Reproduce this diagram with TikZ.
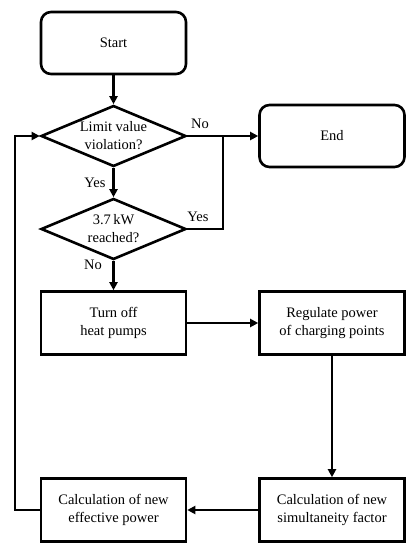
\documentclass[tikz,border=0pt]{standalone}
\usepackage{fontspec}
\setmainfont{Liberation Serif}
\usepackage{tikz}
\usetikzlibrary{shapes.geometric}
\usetikzlibrary{arrows.meta}

\begin{document}
\begin{tikzpicture}[
    x=1pt, y=-1pt,
    every node/.style={font=\fontsize{14.5}{18}\selectfont, align=center},
    termbox/.style={rectangle, draw, rounded corners=10pt, line width=2.6pt,
                    minimum width=145pt, minimum height=62pt},
    procbox/.style={rectangle, draw, line width=2.6pt,
                    minimum width=145pt, minimum height=63pt},
    decision/.style={diamond, draw, aspect=2.4, inner sep=0pt, line width=2.6pt,
                     minimum width=145pt, minimum height=61pt},
    lbl/.style={inner sep=0pt},
    every path/.style={line width=2.6pt},
  ]
\tikzset{>={Triangle[length=8pt, width=8pt]}}
  \useasboundingbox (0,0) rectangle (419,550);
  \node[termbox]  (start)  at (113.5, 43)  {Start};
  \node[decision] (limit)  at (113.5, 136) {Limit value\\violation?};
  \node[termbox]  (end)    at (332, 136)   {End};
  \node[decision] (kw)     at (113.5, 229) {3.7\,kW\\reached?};
  \node[procbox]  (hp)     at (113.5, 323) {Turn off\\heat pumps};
  \node[procbox]  (cp)     at (332, 323)   {Regulate power\\of charging points};
  \node[procbox]  (sim)    at (332, 510)   {Calculation of new\\simultaneity factor};
  \node[procbox]  (eff)    at (113.5, 510) {Calculation of new\\effective power};
  \coordinate (join) at (223, 136);
  \coordinate (back) at (15, 510);

  \node[lbl] at (200, 124) {No};
  \node[lbl] at (95, 183)  {Yes};
  \node[lbl] at (198, 217) {Yes};
  \node[lbl] at (93, 265)  {No};

  \draw[->] (start) -- (limit);
  \draw[->] (limit) -- (end);
  \draw[->] (limit) -- (kw);
  \draw (kw.east) -| (join);
  \draw[->] (kw) -- (hp);
  \draw[->] (hp) -- (cp);
  \draw[->] (cp) -- (sim);
  \draw[->] (sim) -- (eff);
  \draw[->] (eff.west) -- (back) |- (limit.west);
\end{tikzpicture}
\end{document}
